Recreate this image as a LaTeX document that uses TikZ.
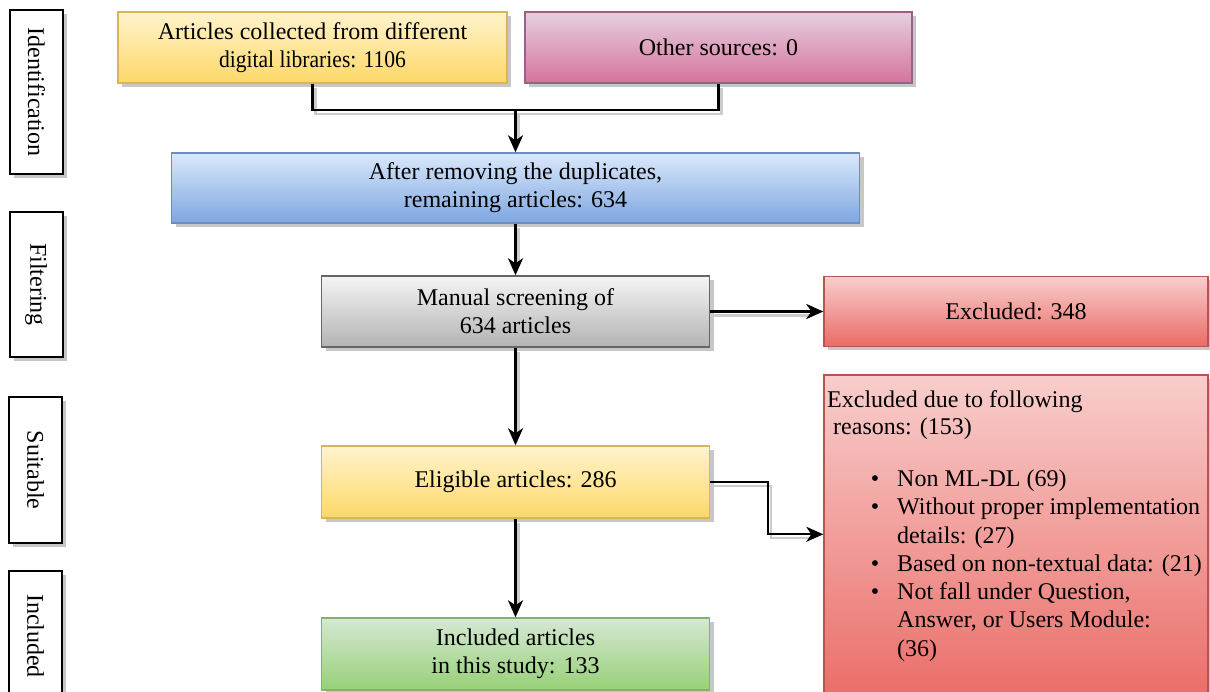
\documentclass[tikz,border=0pt]{standalone}
\usepackage{fontspec}
\usepackage{graphicx}
\setmainfont{Liberation Serif}
\usetikzlibrary{arrows.meta,shadows,calc}
\definecolor{ytop}{HTML}{FFF3CC}\definecolor{ybot}{HTML}{FDD868}\definecolor{ydraw}{HTML}{D6B656}
\definecolor{btop}{HTML}{DAE8FC}\definecolor{bbot}{HTML}{7EA6E0}\definecolor{bdraw}{HTML}{6C8EBF}
\definecolor{ptop}{HTML}{E6D0DE}\definecolor{pbot}{HTML}{D5739D}\definecolor{pdraw}{HTML}{996185}
\definecolor{gtop}{HTML}{F5F5F5}\definecolor{gbot}{HTML}{B3B3B3}\definecolor{gdraw}{HTML}{666666}
\definecolor{rtop}{HTML}{F8CECC}\definecolor{rbot}{HTML}{EA6B66}\definecolor{rdraw}{HTML}{B85450}
\definecolor{ntop}{HTML}{D5E8D4}\definecolor{nbot}{HTML}{97D077}\definecolor{ndraw}{HTML}{82B366}
\begin{document}
\begin{tikzpicture}[x=1pt,y=-1pt,
  every node/.style={font=\fontsize{24pt}{28pt}\selectfont, inner sep=0pt},
  box/.style={rectangle, line width=1.4pt, align=center,
    drop shadow={shadow xshift=4pt, shadow yshift=-4pt, fill=black!22, opacity=1}},
  yelbox/.style={box, draw=ydraw, top color=ytop, bottom color=ybot},
  bluebox/.style={box, draw=bdraw, top color=btop, bottom color=bbot},
  pinkbox/.style={box, draw=pdraw, top color=ptop, bottom color=pbot},
  graybox/.style={box, draw=gdraw, top color=gtop, bottom color=gbot},
  redbox/.style={box, draw=rdraw, top color=rtop, bottom color=rbot},
  greenbox/.style={box, draw=ndraw, top color=ntop, bottom color=nbot},
  stagebox/.style={box, draw=black, line width=2pt, fill=white, minimum width=53pt},
  conn/.style={draw=black, line width=2.3pt},
  arr/.style={conn, -{Stealth[length=17pt,width=15pt,inset=5pt]}},
  cshadow/.style={draw=black!20, line width=2.3pt, transform canvas={shift={(3pt,-4pt)}}},
  txt/.style={anchor=base west}
]
\useasboundingbox (0,0) rectangle (1210,692);
\clip (0,0) rectangle (1210,692);
\fill[white] (0,0) rectangle (1210,692);

% stage labels
\node[stagebox, minimum height=164pt] (s1) at (36.5,92) {\rotatebox{-90}{Identification}};
\node[stagebox, minimum height=145pt] (s2) at (36,284.5) {\rotatebox{-90}{Filtering}};
\node[stagebox, minimum height=146pt] (s3) at (35.5,470) {\rotatebox{-90}{Suitable}};
\node[stagebox, minimum height=130pt] (s4) at (35.5,636) {\rotatebox{-90}{Included}};

% main boxes
\node[yelbox, minimum width=389pt, minimum height=71pt] (ya) at (312.5,47.5)
  {Articles collected from different\\\scalebox{0.9}[1]{digital libraries: 1106}};
\node[pinkbox, minimum width=387pt, minimum height=71pt] (pk) at (718.5,47.5) {Other sources: 0};
\node[bluebox, minimum width=688pt, minimum height=70pt] (bl) at (515.5,188)
  {After removing the duplicates,\\remaining articles: 634};
\node[graybox, minimum width=388pt, minimum height=71pt] (gr) at (515.5,311.5)
  {Manual screening of\\634 articles};
\node[redbox, minimum width=384pt, minimum height=70pt] (ex) at (1016,311.5) {Excluded: 348};
\node[yelbox, minimum width=388pt, minimum height=72pt] (el) at (515.5,482) {Eligible articles: 286};
\node[greenbox, minimum width=388pt, minimum height=72pt] (in) at (515.5,654)
  {Included articles\\in this study: 133};
\node[redbox, minimum width=384pt, minimum height=330pt] (rs) at (1016,540) {};

% reasons text
\node[txt] (r1) at (827,407) {Excluded due to following};
\node[txt] (r2) at (833,434) {reasons: (153)};
\node[anchor=base] (b1) at (875,486) {•};
\node[txt] (t1) at (897,486) {Non ML-DL (69)};
\node[anchor=base] (b2) at (875,514) {•};
\node[txt] (t2) at (897,514) {Without proper implementation};
\node[txt] (t3) at (897,543) {details: (27)};
\node[anchor=base] (b3) at (875,571) {•};
\node[txt] (t4) at (897,571) {Based on non-textual data: (21)};
\node[anchor=base] (b4) at (875,599) {•};
\node[txt] (t5) at (897,599) {Not fall under Question,};
\node[txt] (t6) at (897,627) {Answer, or Users Module:};
\node[txt] (t7) at (897,656) {(36)};

% coordinates
\path (ya.south) ++(0,26) coordinate (yb);
\coordinate (m) at (bl.north |- yb);
\coordinate (elb) at ($(el.east)+(58,0)$);
\coordinate (rin) at ($(rs.north west)+(0,160)$);

% connector shadows
\draw[cshadow] (ya.south) -- (yb) -| (pk.south);
\draw[cshadow, shorten >=16pt] (m) -- (bl.north);
\draw[cshadow, shorten >=16pt] (bl.south) -- (gr.north);
\draw[cshadow, shorten >=16pt] (gr.east) -- (ex.west);
\draw[cshadow, shorten >=16pt] (gr.south) -- (el.north);
\draw[cshadow, shorten >=16pt] (el.east) -- (elb) |- (rin);
\draw[cshadow, shorten >=16pt] (el.south) -- (in.north);

% connectors
\draw[conn] (ya.south) -- (yb) -| (pk.south);
\draw[arr] (m) -- (bl.north);
\draw[arr] (bl.south) -- (gr.north);
\draw[arr] (gr.east) -- (ex.west);
\draw[arr] (gr.south) -- (el.north);
\draw[arr] (el.east) -- (elb) |- (rin);
\draw[arr] (el.south) -- (in.north);
\end{tikzpicture}
\end{document}
